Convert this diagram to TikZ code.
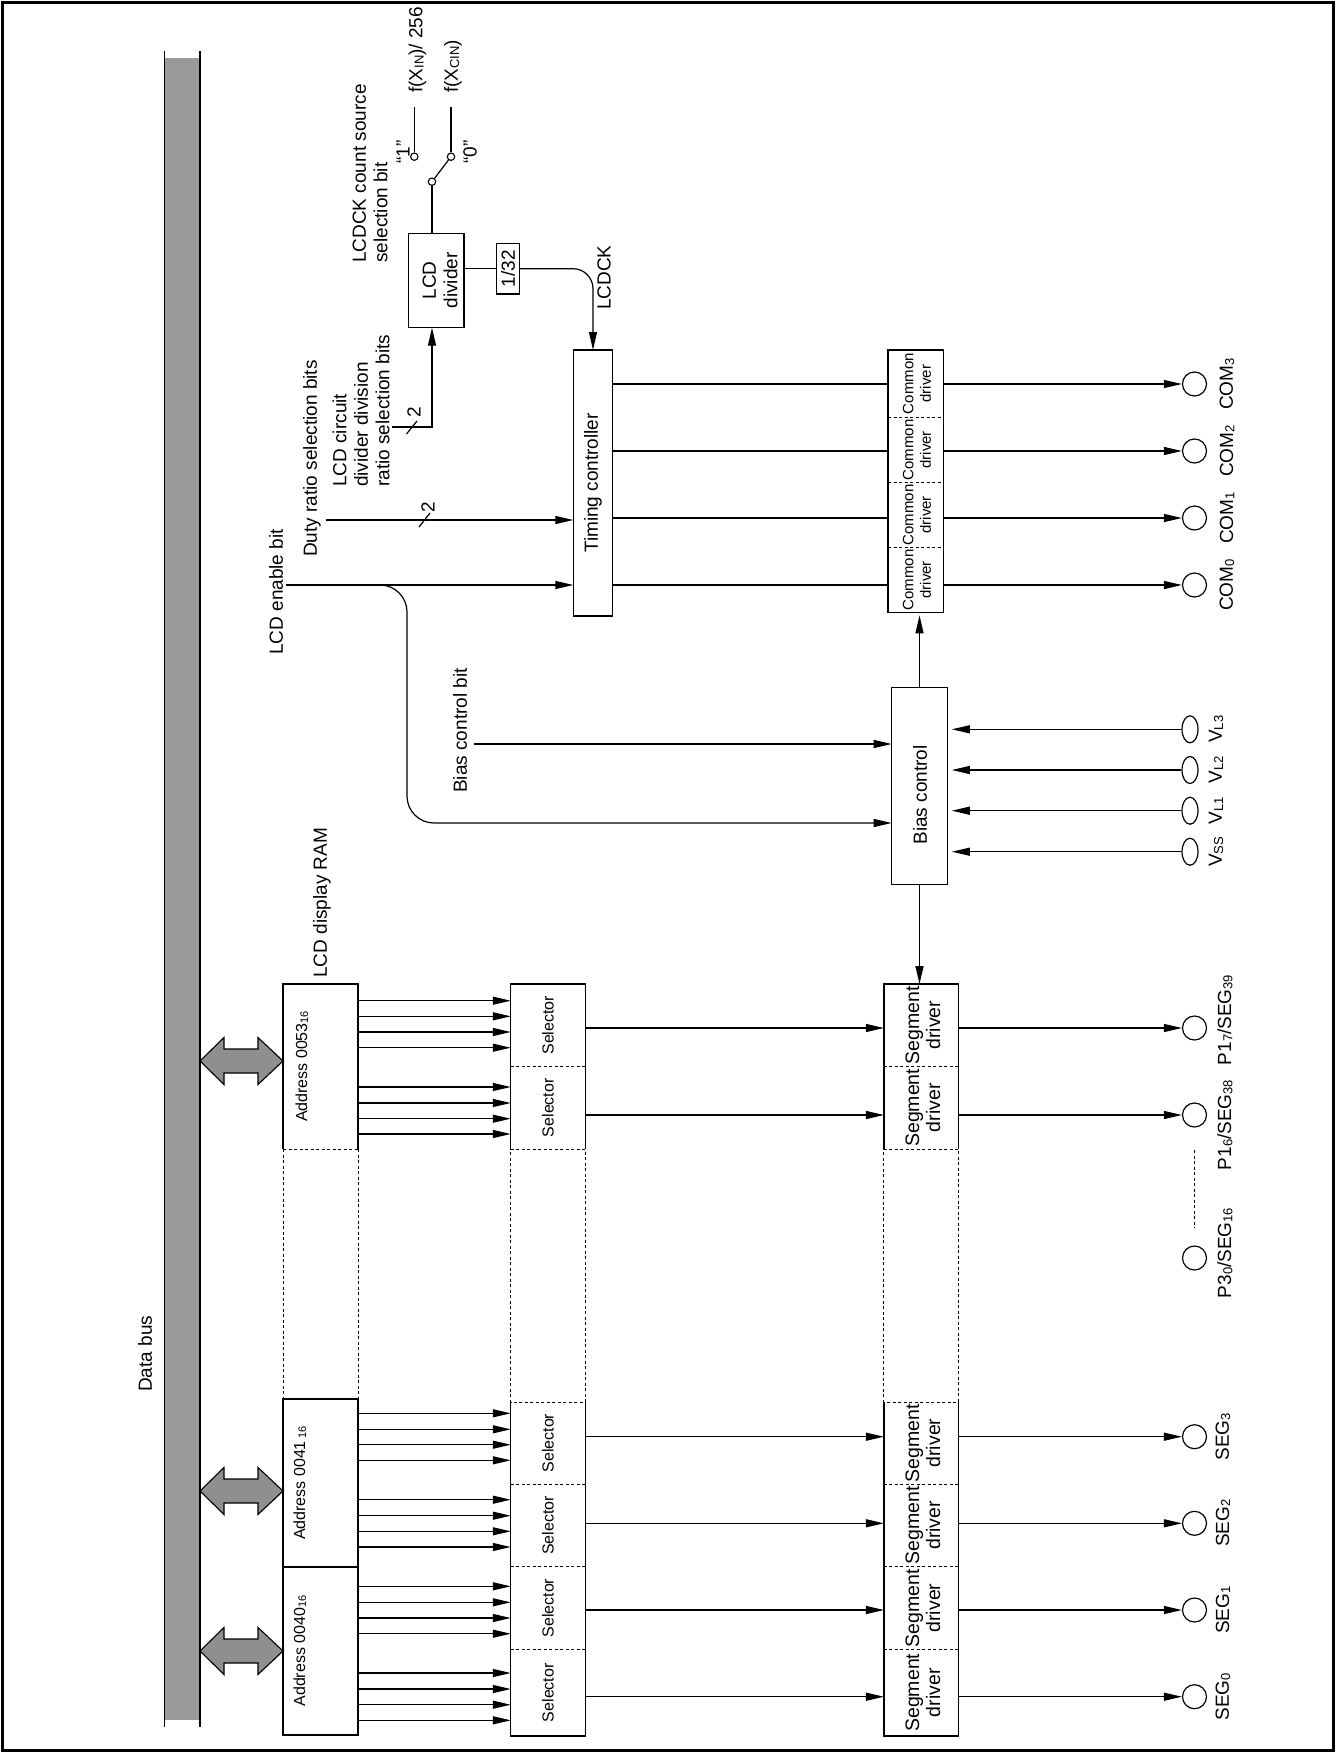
\documentclass[tikz,border=0pt]{standalone}
\usepackage{graphicx}
\usepackage{fontspec}
\setmainfont{Liberation Sans}
\usetikzlibrary{arrows.meta,shapes.geometric}
\definecolor{busgray}{gray}{0.6}
\definecolor{arrgray}{gray}{0.56}
\newcommand{\lowsub}[1]{\raisebox{-1.2pt}{\fontsize{13}{13}\selectfont #1}}
\newcommand{\lowsubm}[1]{\raisebox{-1pt}{\fontsize{11}{11}\selectfont #1}}
\begin{document}
\begin{tikzpicture}[x=1pt,y=-1pt,
  ln/.style={line width=1.2pt},
  arr/.style={line width=1.2pt,-{Triangle[length=18pt,width=8pt]}},
  bl/.style={line width=1.4pt},
  dsh/.style={line width=1pt,dash pattern=on 3pt off 2.5pt},
  grp/.style={inner sep=0pt,outer sep=0pt},
  box/.style={draw,line width=1.4pt,inner sep=0pt,outer sep=0pt},
  rt/.style={rotate=90,inner sep=0pt},
  fb/.style={font=\fontsize{19}{21.5}\selectfont},
  fm/.style={font=\fontsize{16}{18}\selectfont},
  fs/.style={font=\fontsize{15}{17.5}\selectfont},
  fseg/.style={font=\fontsize{19.5}{21}\selectfont},
  pinc/.style={draw,circle,line width=1.2pt,minimum size=24pt,inner sep=0pt},
  vpin/.style={draw,ellipse,line width=1.2pt,minimum width=16pt,minimum height=27pt,inner sep=0pt},
  sw/.style={draw,circle,line width=1.1pt,minimum size=7.4pt,inner sep=0pt},
  dbl/.style={fill=arrgray,draw,line width=1.1pt,line join=miter},
]
\useasboundingbox (0,0) rectangle (1339,1753);
\draw[line width=3pt] (2.5,3) rectangle (1333.5,1750);

% data bus
\fill[busgray] (164,58) rectangle (200,1720);
\draw[line width=1pt] (164,51) -- (164,1727);
\draw[line width=1.6pt] (200,51) -- (200,1727);
\node[rt,fb,anchor=west] (dbus) at (145,1392) {Data bus};

% double arrows
\foreach \c in {1061,1491,1651}
  \draw[dbl] (200,\c) -- (224,\c-23.5) -- (224,\c-12) -- (258,\c-12) -- (258,\c-23.5) -- (283,\c) -- (258,\c+23.5) -- (258,\c+12) -- (224,\c+12) -- (224,\c+23.5) -- cycle;

% address column
\node[grp,minimum width=75pt,minimum height=165pt] (a53) at (320.5,1066.5) {};
\node[box,minimum width=75pt,minimum height=168pt] (a41) at (320.5,1483) {};
\node[box,minimum width=75pt,minimum height=168pt] (a40) at (320.5,1651) {};
\draw[bl] (a53.south west) -- (a53.north west) -- (a53.north east) -- (a53.south east);
\draw[dsh] (a53.south west) -- (a53.south east);
\draw[dsh] (a53.south west) -- (a41.north west);
\draw[dsh] (a53.south east) -- (a41.north east);
\node[rt,fm] (ta53) at (302,1066.5) {Address 0053\lowsubm{16}};
\node[rt,fm] (ta41) at (300,1483) {Address 0041\,\lowsubm{16}};
\node[rt,fm] (ta40) at (300,1651) {Address 0040\lowsubm{16}};
\node[rt,fb,anchor=west] (lram) at (322,978) {LCD display RAM};

% selector and segment driver columns
\node[grp,minimum width=74.5pt,minimum height=165pt] (sT) at (548,1066.5) {};
\node[grp,minimum width=74.5pt,minimum height=334pt] (sB) at (548,1569) {};
\node[grp,minimum width=74.7pt,minimum height=165pt] (gT) at (921.3,1066.5) {};
\node[grp,minimum width=74.7pt,minimum height=334pt] (gB) at (921.3,1569) {};
\foreach \t/\b in {sT/sB,gT/gB}{
  \draw[bl] (\t.south west) -- (\t.north west) -- (\t.north east) -- (\t.south east);
  \draw[dsh] (\t.west) -- (\t.east);
  \draw[dsh] (\t.south west) -- (\t.south east) -- (\b.north east) -- (\b.north west) -- cycle;
  \draw[bl] (\b.north west) -- (\b.south west) -- (\b.south east) -- (\b.north east);
  \foreach \yy in {1484,1566.7,1649.3}
    \draw[dsh] (\b.west |- 0,\yy) -- (\b.east |- 0,\yy);
}
\foreach \yy [count=\i] in {1025.25,1107.75,1443,1525.35,1608,1692.65}{
  \node[rt,fm] (sel\i) at (548,\yy) {Selector};
  \node[rt,fseg,align=center] (sgd\i) at (923,\yy) {Segment\\driver};
}

% address -> selector arrows
\foreach \yy in {1000.7,1016.3,1032,1047.7,1087,1103,1118.7,1134,1413.3,1429.3,1444.7,1460.3,1499.7,1515.7,1531.3,1547,1586.3,1602.3,1618,1633.7,1673,1689,1704.7,1720.3}
  \draw[arr] (a53.east |- 0,\yy) -- (sT.west |- 0,\yy);

% segment outputs
\node[pinc] (pS39) at (1194.5,1028) {};
\draw[arr] (sT.east |- pS39) -- (gT.west |- pS39);
\draw[arr] (gT.east |- pS39) -- (pS39.west);
\node[rt,fb] (lS39) at (1225,1020) {P1\lowsub{7}/SEG\lowsub{39}};
\node[pinc] (pS38) at (1194.5,1115) {};
\draw[arr] (sT.east |- pS38) -- (gT.west |- pS38);
\draw[arr] (gT.east |- pS38) -- (pS38.west);
\node[rt,fb] (lS38) at (1225,1125) {P1\lowsub{6}/SEG\lowsub{38}};
\coordinate (dd1) at (1194.5,1150);
\coordinate (dd2) at (1194.5,1228);
\draw[dsh] (dd1) -- (dd2);
\node[pinc] (p30) at (1194.5,1258) {};
\node[rt,fb] (lS16) at (1225,1253) {P3\lowsub{0}/SEG\lowsub{16}};
\foreach \i/\yy in {3/1436.7,2/1523.3,1/1610,0/1696.7}{
  \node[pinc] (seg\i) at (1194.5,\yy) {};
  \draw[arr] (sB.east |- seg\i) -- (gB.west |- seg\i);
  \draw[arr] (gB.east |- seg\i) -- (seg\i.west);
  \node[rt,fb] (lseg\i) at (1223,\yy) {SEG\lowsub{\i}};
}

% timing controller and common drivers
\node[box,fb,minimum width=39.4pt,minimum height=266pt] (tc) at (593,483) {\rotatebox{90}{Timing controller}};
\node[box,minimum width=55.3pt,minimum height=262.3pt] (cd) at (915.7,481.2) {};
\foreach \yy in {417.3,482.3,547.3}
  \draw[dsh] (cd.west |- 0,\yy) -- (cd.east |- 0,\yy);
\foreach \yy [count=\i] in {383.65,449.8,514.8,579.8}
  \node[rt,fs,align=center] (cdt\i) at (917,\yy) {Common\\driver};
\foreach \i/\yy in {0/585,1/518,2/451,3/384}{
  \node[pinc] (com\i) at (1194.5,\yy) {};
  \draw[ln] (tc.east |- com\i) -- (cd.west |- com\i);
  \draw[arr] (cd.east |- com\i) -- (com\i.west);
  \node[rt,fb] (lcom\i) at (1227,\yy) {COM\lowsub{\i}};
}

% bias control
\node[box,minimum width=55.6pt,minimum height=196.6pt] (bc) at (919.5,786) {};
\node[rt,fb] (bct) at (920,795) {Bias control};
\foreach \nm/\yy/\sub in {v3/729.3/L3,v2/770/L2,v1/810.7/L1,vs/851.7/SS}{
  \node[vpin] (\nm) at (1190,\yy) {};
  \draw[arr,shorten >=4.5pt] (\nm.west) -- (bc.east |- \nm);
  \node[rt,fb] (l\nm) at (1216,\yy) {V\lowsub{\sub}};
}
\draw[arr,shorten >=3pt] (bc.north) -- (bc.north |- cd.south);
\draw[arr] (bc.south) -- (bc.south |- gT.north);

% LCD divider, switch, 1/32
\node[box,minimum width=55.7pt,minimum height=94.4pt] (div) at (436.2,280.5) {};
\node[rt,fb,align=center] (divt) at (440,280.5) {LCD\\divider};
\node[box,line width=1.2pt,fb,minimum width=22.6pt,minimum height=50.7pt] (frac) at (508,268.7) {\rotatebox{90}{1/32}};
\draw[ln] (div.east |- frac.west) -- (frac.west);
\draw[arr,rounded corners=20pt] (frac.east) -| (tc.north);
\node[rt,fb,anchor=west] (lck) at (604,310) {LCDCK};

\node[sw] (piv) at (432,181.7) {};
\node[sw] (c1) at (414.3,156.7) {};
\node[sw] (c0) at (451,156.7) {};
\draw[ln] ([xshift=-4.2pt]div.north) -- (piv.south);
\draw[ln] (piv) -- (c0);
\coordinate (c1t) at (414.3,106.7);
\coordinate (c0t) at (451,106.7);
\draw[ln] (c1.north) -- (c1t);
\draw[ln] (c0.north) -- (c0t);
\node[rt,fb,anchor=west] (lxin) at (417.5,93) {f(X\lowsub{IN})/ 256};
\node[rt,fb,anchor=west] (lxcin) at (453,93) {f(X\lowsub{CIN})};
\node[rt,fb] (q1) at (403,152) {“1”};
\node[rt,fb] (q0) at (470,152) {“0”};
\node[rt,fb,anchor=west,align=left] (lcs) at (370,263) {LCDCK count source\\selection bit};

% inputs
\coordinate (enS) at (286,585);
\coordinate (en2) at (407,823);
\draw[arr] (enS) -- (tc.west |- enS);
\draw[arr,rounded corners=27pt] (enS) -| (en2) -- (bc.west |- en2);
\node[rt,fb,anchor=west] (len) at (276,655) {LCD enable bit};

\coordinate (duS) at (326,520);
\draw[arr] (duS) -- (tc.west |- duS);
\draw[ln] (419,527) -- (430,513);
\node[rt,fb] (d2) at (428,507) {2};
\node[rt,fb,anchor=west] (ldu) at (312,557) {Duty ratio selection bits};

\coordinate (dvS) at (392,427);
\draw[arr] (dvS) -| ([xshift=-4.2pt]div.south);
\draw[ln] (406.5,434) -- (417,421);
\node[rt,fb] (dv2) at (414,412) {2};
\node[rt,fb,anchor=west,align=left] (ldv) at (361,487) {LCD circuit\\divider division\\ratio selection bits};

\coordinate (bbS) at (474,744);
\draw[arr] (bbS) -- (bc.west |- bbS);
\node[rt,fb,anchor=west] (lbb) at (460,793) {Bias control bit};
\end{tikzpicture}
\end{document}
